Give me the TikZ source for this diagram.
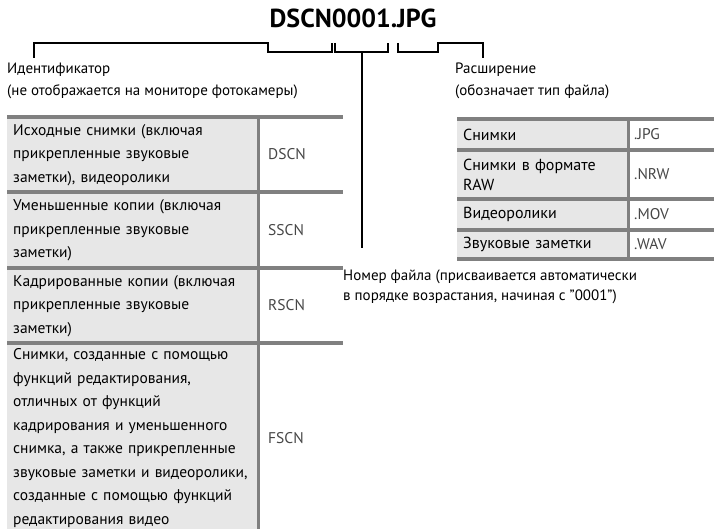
\documentclass[tikz,border=0pt]{standalone}
\usepackage{fontspec}
\setmainfont{PT Sans}
\usetikzlibrary{positioning}
\definecolor{cellgray}{RGB}{231,231,231}
\definecolor{rulegray}{RGB}{128,128,128}
\definecolor{codegray}{RGB}{70,70,70}
\newcommand{\tabfont}{\fontsize{15.5}{23.5}\selectfont}
\newcommand{\extfont}{\fontsize{16}{20}\selectfont}
\newcommand{\notefont}{\fontsize{15}{22}\selectfont}

\begin{document}
\begin{tikzpicture}[x=1pt,y=-1pt,
    desc/.style={rectangle,anchor=north west,fill=cellgray,inner xsep=6pt,inner ysep=0pt,text width=239pt,minimum width=251pt,align=left,font=\tabfont},
    extdesc/.style={desc,text width=159pt,minimum width=171pt,inner xsep=6pt,font=\extfont},
    code/.style={anchor=west,inner sep=0pt,text=codegray,font=\tabfont},
    note/.style={anchor=north west,inner sep=0pt,align=left,font=\notefont},
    rule/.style={draw=rulegray,line width=3.5pt},
    vrule/.style={draw=rulegray,line width=3pt},
    bracket/.style={draw=black,line width=1.6pt}
  ]
    \useasboundingbox (0,0) rectangle (714,529);
    % file name and its parts
    \node[font=\fontsize{26}{30}\selectfont\bfseries,inner sep=0pt] (fname) at (353,18) {DSCN0001.JPG};
    \coordinate (idtop) at (268,43);
    \coordinate (numleft) at (335,43);
    \coordinate (numright) at (388,43);
    \coordinate (exttop) at (398,43);
    \coordinate (numstem) at (362,52);

    \node[note] (idnote) at (7,63) {Идентификатор\\(не отображается на мониторе фотокамеры)};
    \node[note] (extnote) at (455,63) {Расширение\\(обозначает тип файла)};
    \node[note,font=\fontsize{15}{20}\selectfont] (numnote) at (343,270) {Номер файла (присваивается автоматически\\в порядке возрастания, начиная с "0001")};

    % left table
    \node[desc,minimum height=75pt] (src) at (7,117) {Исходные снимки (включая\\прикрепленные звуковые\\заметки), видеоролики};
    \node[desc,minimum height=76pt] (small) at (7,192) {Уменьшенные копии (включая\\прикрепленные звуковые\\заметки)};
    \node[desc,minimum height=75pt] (crop) at (7,268) {Кадрированные копии (включая\\прикрепленные звуковые\\заметки)};
    \node[desc,minimum height=190pt] (edit) at (7,343) {Снимки, созданные с помощью\\функций редактирования,\\отличных от функций\\кадрирования и уменьшенного\\снимка, а также прикрепленные\\звуковые заметки и видеоролики,\\созданные с помощью функций\\редактирования видео};
    \node[code] (dscn) at (268,154.5) {DSCN};
    \node[code] (sscn) at (268,230) {SSCN};
    \node[code] (rscn) at (268,305.5) {RSCN};
    \node[code] (fscn) at (268,438) {FSCN};
    \draw[vrule] (258,117) -- (258,529);
    \foreach \y in {117,192,268,343}
      \draw[rule] (7,\y) -- (343,\y);

    % right table
    \node[extdesc,minimum height=31pt] (photo) at (457,119) {Снимки};
    \node[extdesc,minimum height=49pt] (raw) at (457,150) {Снимки в формате\\RAW};
    \node[extdesc,minimum height=31pt] (movie) at (457,199) {Видеоролики};
    \node[extdesc,minimum height=29pt] (voice) at (457,230) {Звуковые заметки};
    \node[code] (jpg) at (634,134.5) {.JPG};
    \node[code] (nrw) at (634,174.5) {.NRW};
    \node[code] (mov) at (634,214.5) {.MOV};
    \node[code] (wav) at (634,244.5) {.WAV};
    \draw[vrule] (628,119) -- (628,259);
    \foreach \y in {119,150,199,230,259}
      \draw[rule] (457,\y) -- (714,\y);

    % brackets
    \draw[bracket] (34,58) -- (34,43) -- (idtop) -- ++(0,9) -| (332,43);
    \draw[bracket] (numleft) -- ++(0,9) -| (numright);
    \draw[bracket] (numstem) -- (362,248);
    \draw[bracket] (exttop) -- ++(0,9) -| (438,43) -| (483,58);
  \end{tikzpicture}
\end{document}
